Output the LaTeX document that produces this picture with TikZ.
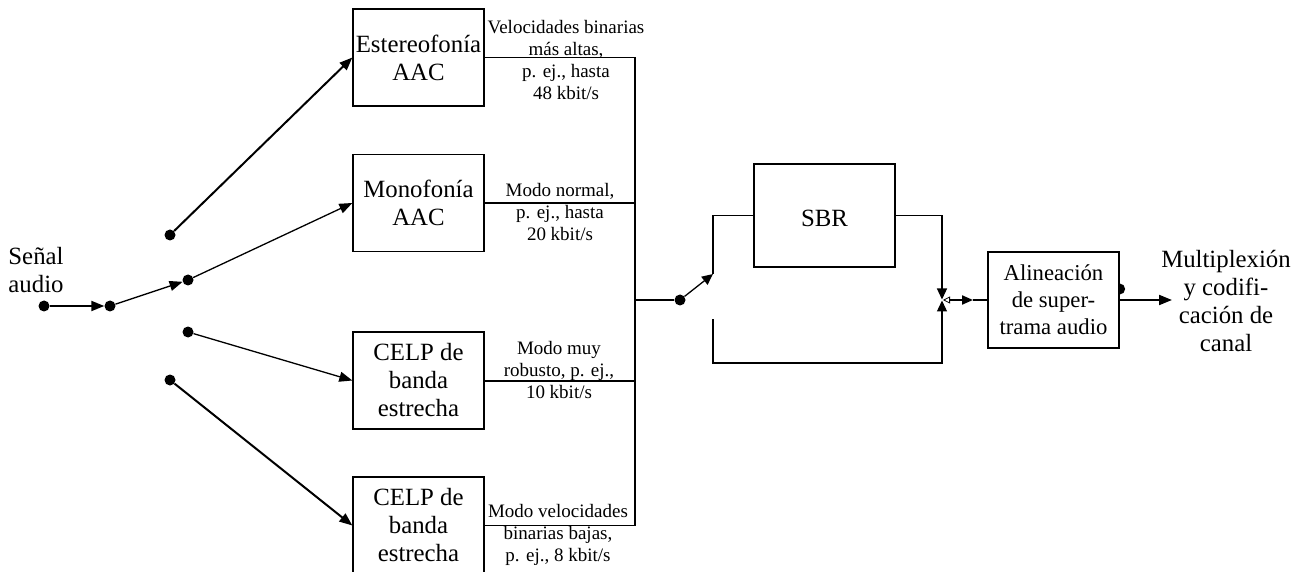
\documentclass[tikz,border=0pt]{standalone}
\usepackage{fontspec}
\setmainfont{Liberation Serif}
\usetikzlibrary{arrows.meta}
\begin{document}
\begin{tikzpicture}[x=1pt,y=-1pt,
 blk/.style={draw,line width=1.3pt,minimum width=131pt,minimum height=97pt,inner sep=0pt,align=center,font=\fontsize{24.8}{28}\selectfont},
 lbl/.style={inner sep=0pt,align=center,font=\fontsize{19}{22}\selectfont},
 bigtxt/.style={inner sep=0pt,align=center,font=\fontsize{24.8}{28}\selectfont},
 bullet/.style={circle,fill,inner sep=0pt,minimum size=11pt},
 thn/.style={line width=1.3pt},
 thk/.style={line width=2pt},
 arr/.style={-{Triangle[length=13pt,width=10pt]}},
 arrs/.style={-{Triangle[length=11pt,width=10pt]}},
]
\useasboundingbox (0,0) rectangle (1302,572);

% blocks
\node[blk] (est) at (418.5,57.5) {Estereofonía\\AAC};
\node[blk] (mono) at (418.5,203) {Monofonía\\AAC};
\node[blk] (c1) at (418.5,380.5) {CELP de\\banda\\estrecha};
\node[blk] (c2) at (418.5,525.5) {CELP de\\banda\\estrecha};
\node[blk,minimum width=141pt,minimum height=103pt] (sbr) at (824.5,215.5) {\raisebox{-11.5pt}[0pt][0pt]{SBR}};
\node[blk,minimum height=96pt,font=\fontsize{22.7}{27}\selectfont] (ali) at (1053.5,300) {Alineación\\de super-\\trama audio};

% dots
\node[bullet] (in) at (44,306) {};
\node[bullet] (n0) at (110,306) {};
\node[bullet] (a) at (170,235) {};
\node[bullet] (b) at (188,280) {};
\node[bullet] (c) at (188,332) {};
\node[bullet] (d) at (170,380) {};
\node[bullet] (sw) at (680,300) {};

% texts
\node[bigtxt] (sen) at (36,270) {Señal\\audio};
\node[bigtxt] (mux) at (1226,301) {Multiplexión\\y codifi-\\cación de\\canal};
\node[lbl] (l1) at (566,60) {Velocidades binarias\\más altas,\\p. ej., hasta\\48 kbit/s};
\node[lbl] (l2) at (560,212) {Modo normal,\\p. ej., hasta\\20 kbit/s};
\node[lbl] (l3) at (559,370) {Modo muy\\robusto, p. ej.,\\10 kbit/s};
\node[lbl] (l4) at (558,535) {Modo velocidades\\binarias bajas,\\p. ej., 8 kbit/s};

% input side
\draw[thk,arr] (in) -- (n0);
\draw[thn,arr] (n0) -- (b);
\draw[thk,arr] (a) -- (est.west);
\draw[thn,arr] (b) -- (mono.west);
\draw[thn,arr] (c) -- (c1.west);
\draw[thk,arr] (d) -- (c2.west);

% bus
\coordinate (busx) at (635,300);
\draw[line width=1.6pt] (est.east) -- (est.east -| busx) -- (c2.east -| busx) -- (c2.east);
\draw[thk] (mono.east) -- (mono.east -| busx);
\draw[thk] (c1.east) -- (c1.east -| busx);
\draw[thk] (busx) -- (sw);

% switch and SBR paths
\coordinate (swt) at (713,274);
\coordinate (swb) at (713,319);
\coordinate (bl) at (713,363);
\coordinate (jn) at (942,300);
\coordinate (jt) at (942,299.5);
\coordinate (jb) at (942,300.5);
\draw[thn,arrs] (sw) -- (swt);
\draw[thn] (swt) -- (swt |- sbr.west) -- (sbr.west);
\draw[thn,arrs] (sbr.east) -- (sbr.east -| jn) -- (jt);
\draw[thn,arrs] (swb) -- (bl) -- (bl -| jn) -- (jb);

% junction to alignment
\coordinate (mid) at (973,300);
\draw[thk,{Triangle[open,length=7pt,width=7pt,line width=0.8pt]}-{Triangle[length=11pt,width=9pt]}] (943,300) -- (mid);
\draw[thk] (mid) -- (ali.west);

% output
\fill[shift={(ali.east)}] (0,-5.5) arc[start angle=-90,end angle=90,radius=5.5pt] -- cycle;
\coordinate (outt) at (1172,300);
\draw[thk,arr] (ali.east) -- (outt);
\end{tikzpicture}
\end{document}
